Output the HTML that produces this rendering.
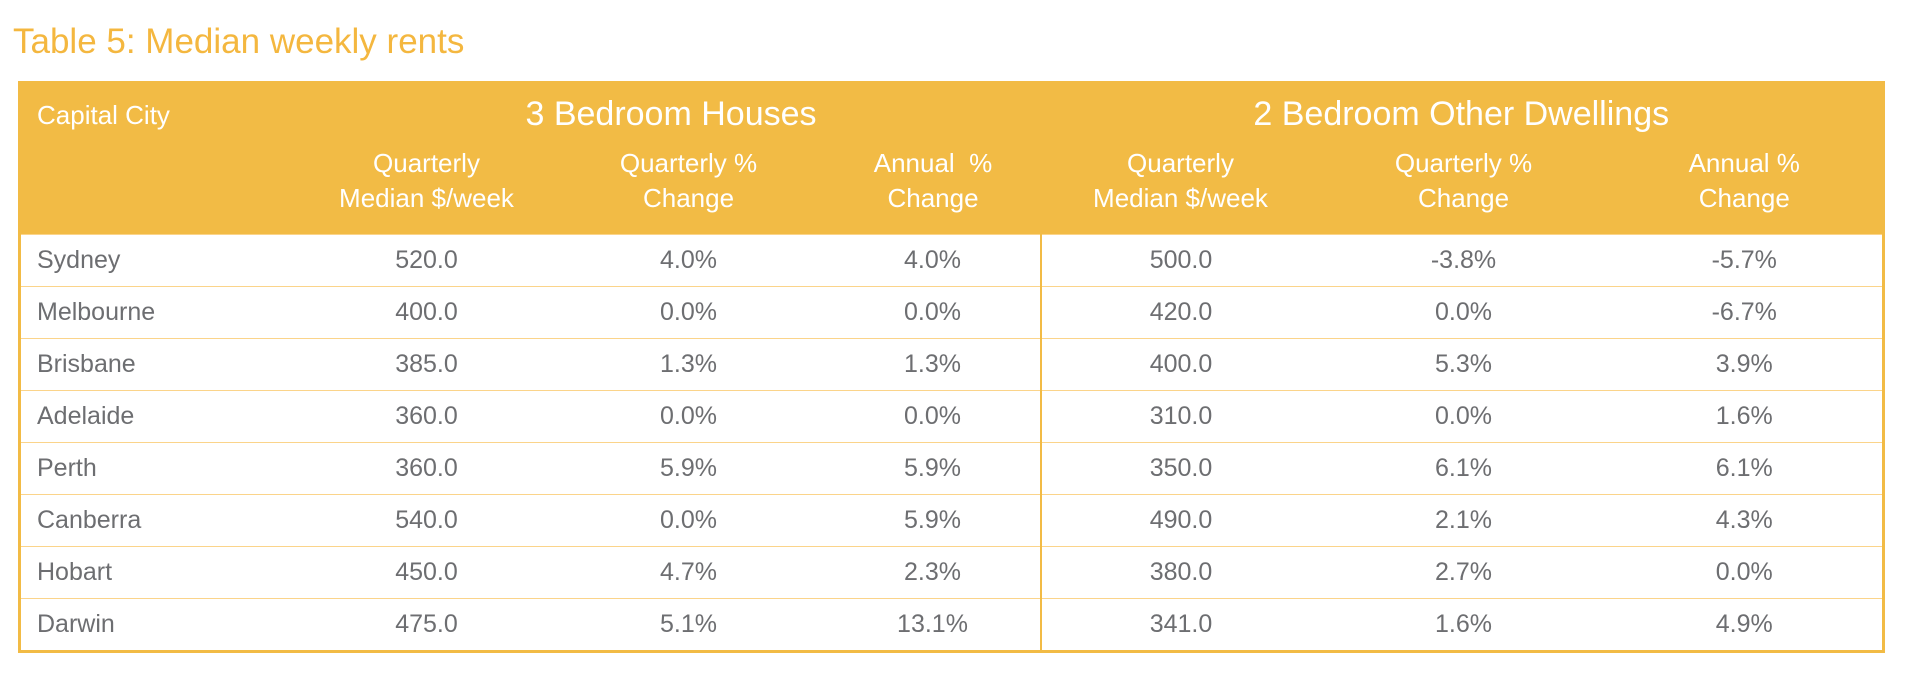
<!DOCTYPE html>
<html><head><meta charset="utf-8"><style>
body{margin:0;width:1906px;height:696px;background:#fff;overflow:hidden;font-family:"Liberation Sans Narrow","Liberation Sans",sans-serif;}
#title{position:absolute;left:13px;top:22px;font-size:35px;color:#f4b73f;white-space:nowrap}
table{position:absolute;left:18px;top:81px;width:1864px;border-collapse:collapse;table-layout:fixed;border:3px solid #f2bb45}
th{background:#f2bb45;color:#fff;font-weight:normal;padding:0}
td{color:#6d6e71;font-size:25px;text-align:center;height:51px;padding:0;border-top:1.5px solid #fbd48a}
td.city{text-align:left;padding-left:16px}
td.div{border-left:2.5px solid #f2bb45}
.top th{height:60px;font-size:34px;vertical-align:middle}
.top th.cap{font-size:26px;text-align:left;padding-left:16px;vertical-align:top;padding-top:16px}
.sub th{height:88px;font-size:26px;line-height:35px;vertical-align:top;padding-top:2px}
</style></head><body>
<div id="title">Table 5: Median weekly rents</div>
<table>
<colgroup><col style="width:282px"><col style="width:250px"><col style="width:274px"><col style="width:215px"><col style="width:280px"><col style="width:286px"><col style="width:277px"></colgroup>
<tr class="top">
<th class="cap" rowspan="2">Capital City</th>
<th colspan="3">3 Bedroom Houses</th>
<th colspan="3">2 Bedroom Other Dwellings</th></tr>
<tr class="sub">
<th>Quarterly<br>Median $/week</th>
<th>Quarterly %<br>Change</th>
<th>Annual &nbsp;%<br>Change</th>
<th>Quarterly<br>Median $/week</th>
<th>Quarterly %<br>Change</th>
<th>Annual %<br>Change</th></tr>
<tbody id="body"></tbody>
</table>
<script>
const cities=["Sydney","Melbourne","Brisbane","Adelaide","Perth","Canberra","Hobart","Darwin"];
const houseMedian=["520.0","400.0","385.0","360.0","360.0","540.0","450.0","475.0"];
const houseQtr=["4.0%","0.0%","1.3%","0.0%","5.9%","0.0%","4.7%","5.1%"];
const houseAnn=["4.0%","0.0%","1.3%","0.0%","5.9%","5.9%","2.3%","13.1%"];
const dwMedian=["500.0","420.0","400.0","310.0","350.0","490.0","380.0","341.0"];
const dwQtr=["-3.8%","0.0%","5.3%","0.0%","6.1%","2.1%","2.7%","1.6%"];
const dwAnn=["-5.7%","-6.7%","3.9%","1.6%","6.1%","4.3%","0.0%","4.9%"];
const body=document.getElementById('body');
cities.forEach((c,i)=>{
 const tr=document.createElement('tr');
 
 
 const vals=[c,houseMedian[i],houseQtr[i],houseAnn[i],dwMedian[i],dwQtr[i],dwAnn[i]];
 const names=['city','house-median','house-quarterly-change','house-annual-change','dwelling-median','dwelling-quarterly-change','dwelling-annual-change'];
 vals.forEach((v,j)=>{
  const td=document.createElement('td');
  td.textContent=v;
  if(j===0)td.className='city';
  if(j===4)td.className='div';
  
  
  tr.appendChild(td);
 });
 body.appendChild(tr);
});
</script>
</body></html>
